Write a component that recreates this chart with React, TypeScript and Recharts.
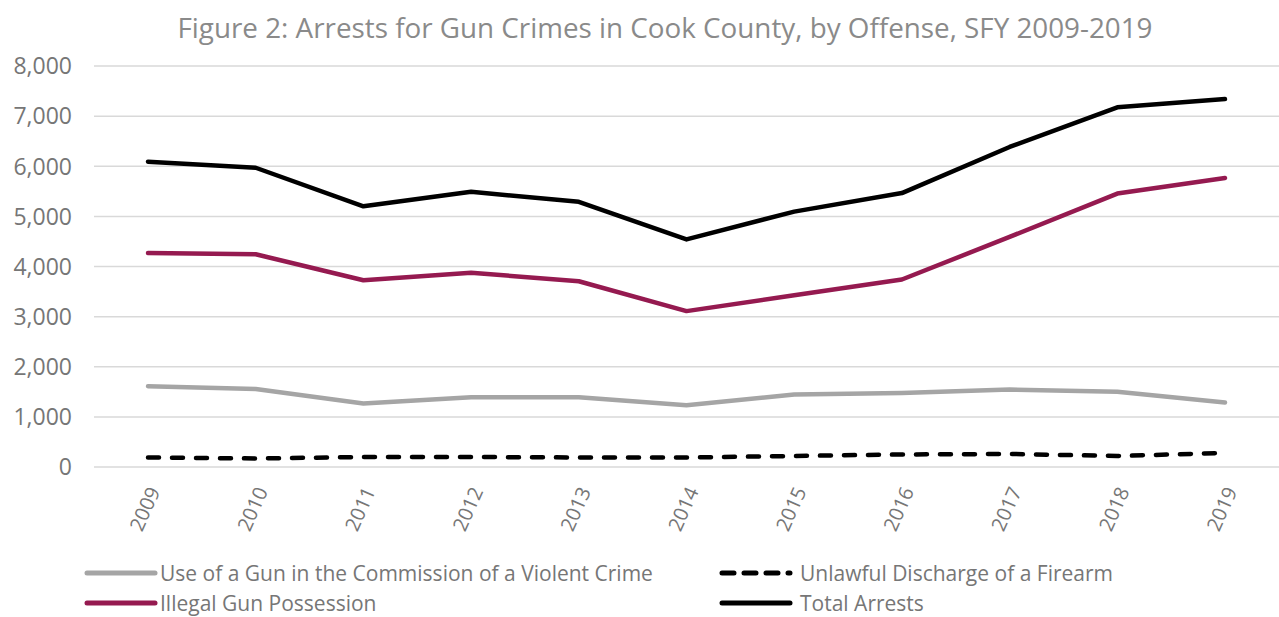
import React from 'react';
import { LineChart, Line, XAxis, YAxis, CartesianGrid, Legend } from 'recharts';

const years = ['2009', '2010', '2011', '2012', '2013', '2014', '2015', '2016', '2017', '2018', '2019'];
const useOfGun = [1610, 1555, 1265, 1390, 1390, 1230, 1445, 1475, 1545, 1500, 1285];
const unlawfulDischarge = [190, 170, 200, 200, 190, 190, 220, 250, 260, 220, 280];
const illegalPossession = [4270, 4245, 3725, 3875, 3705, 3110, 3425, 3740, 4590, 5455, 5765];
const totalArrests = [6090, 5970, 5200, 5490, 5290, 4540, 5095, 5465, 6385, 7175, 7340];
const yTicks = [0, 1000, 2000, 3000, 4000, 5000, 6000, 7000, 8000];

const title = 'Figure 2: Arrests for Gun Crimes in Cook County, by Offense, SFY 2009-2019';

const series = [
  { key: 'useOfGun', name: 'Use of a Gun in the Commission of a Violent Crime', color: '#A5A5A5', dash: undefined as string | undefined },
  { key: 'unlawfulDischarge', name: 'Unlawful Discharge of a Firearm', color: '#000000', dash: '11 13' },
  { key: 'illegalPossession', name: 'Illegal Gun Possession', color: '#951A50', dash: undefined },
  { key: 'totalArrests', name: 'Total Arrests', color: '#000000', dash: undefined },
];

const data = years.map((y, i) => ({
  year: y,
  useOfGun: useOfGun[i],
  unlawfulDischarge: unlawfulDischarge[i],
  illegalPossession: illegalPossession[i],
  totalArrests: totalArrests[i],
}));

const FONT = "'Open Sans', 'DejaVu Sans', sans-serif";
const TEXT = '#767676';

const YTick = (props: any) => {
  const { y, payload } = props;
  return (
    <text x={72} y={y} dy="0.36em" textAnchor="end" fontFamily={FONT} fontSize={23} fill={TEXT}>
      {Number(payload.value).toLocaleString('en-US')}
    </text>
  );
};

const XTick = (props: any) => {
  const { x, y, payload } = props;
  return (
    <g transform={`translate(${x + 6},${y + 13})`}>
      <text transform="rotate(-66)" x={0} y={0} dy="0.36em" textAnchor="end" fontFamily={FONT} fontSize={20} fill={TEXT}>
        {payload.value}
      </text>
    </g>
  );
};

const LegendContent = () => {
  const cols = [85, 720];
  const rows = [17, 47];
  return (
    <svg width={1279} height={61} style={{ display: 'block' }}>
      {series.map((s, i) => {
        const cx = cols[i % 2];
        const cy = rows[Math.floor(i / 2)];
        return (
          <g key={s.key}>
            <line
              x1={cx + 2}
              x2={cx + 70}
              y1={cy}
              y2={cy}
              stroke={s.color}
              strokeWidth={5}
              strokeLinecap="round"
              strokeDasharray={s.dash ? '12 10' : undefined}
            />
            <text x={cx + (s.dash ? 80 : 75) + (i === 3 ? 5 : 0)} y={cy} dy="0.36em" fontFamily={FONT} fontSize={21} fill={TEXT}>
              {s.name}
            </text>
          </g>
        );
      })}
    </svg>
  );
};

export default function App() {
  return (
    <div style={{ position: 'fixed', left: 0, top: 0, width: 1279, height: 617, background: '#fff' }}>
      <div
        style={{
          position: 'absolute',
          left: 0,
          top: 8,
          width: 1279,
          paddingLeft: 51,
          boxSizing: 'border-box',
          textAlign: 'center',
          fontFamily: FONT,
          fontSize: 27.8,
          lineHeight: '38px',
          color: '#8A8A8A',
          whiteSpace: 'nowrap',
          zIndex: 1,
        }}
      >
        {title}
      </div>
      <LineChart width={1279} height={617} data={data} margin={{ top: 66, right: 0, bottom: 0, left: 0 }}>
        <CartesianGrid vertical={false} stroke="#D9D9D9" strokeWidth={1.5} />
        <XAxis
          dataKey="year"
          axisLine={false}
          tickLine={false}
          interval={0}
          padding={{ left: 54, right: 54 }}
          tick={<XTick />}
          height={89}
        />
        <YAxis
          domain={[0, 8000]}
          ticks={yTicks}
          axisLine={false}
          tickLine={false}
          width={94}
          tick={<YTick />}
        />
        {series.map((s) => (
          <Line
            key={s.key}
            dataKey={s.key}
            name={s.name}
            stroke={s.color}
            strokeWidth={4.5}
            strokeDasharray={s.dash}
            strokeLinecap="round"
            strokeLinejoin="round"
            dot={false}
            activeDot={false}
            type="linear"
            isAnimationActive={false}
          />
        ))}
        <Legend
          content={<LegendContent />}
          wrapperStyle={{ position: 'absolute', left: 0, top: 556, width: 1279, height: 61 }}
        />
      </LineChart>
    </div>
  );
}
